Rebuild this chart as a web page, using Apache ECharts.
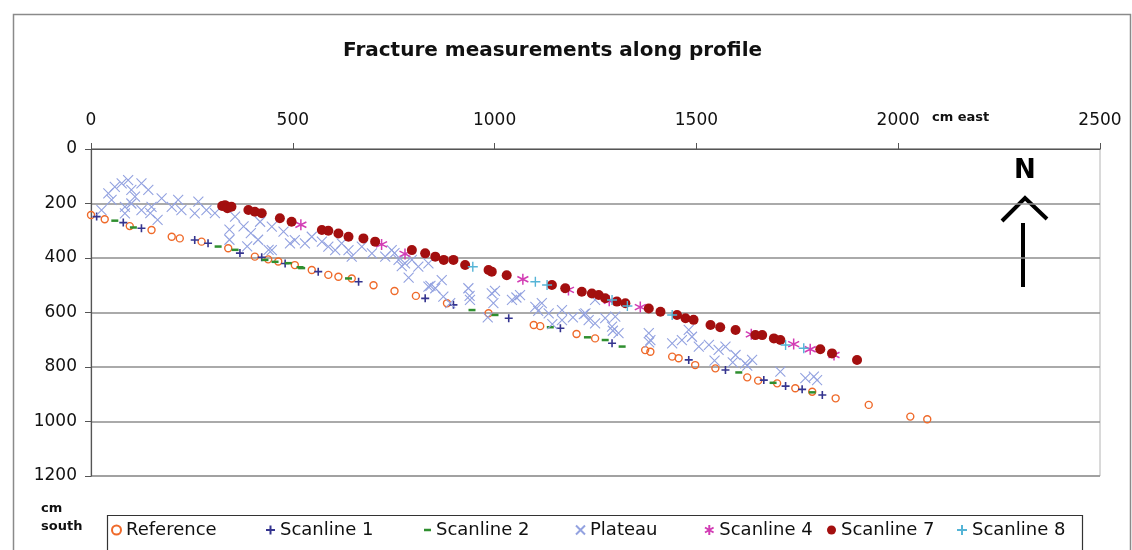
<!DOCTYPE html>
<html>
<head>
<meta charset="utf-8">
<style>
  html, body { margin: 0; padding: 0; background: #fff; }
  #chart { width: 1132px; height: 550px; }
</style>
<script src="https://cdn.jsdelivr.net/npm/echarts@6/dist/echarts.min.js"></script>
</head>
<body>
<div id="chart"></div>
<script>
// Axis ticks (cm east along the top, cm south down the side)
const eastTicks = [0, 500, 1000, 1500, 2000, 2500];
const southTicks = [0, 200, 400, 600, 800, 1000, 1200];

// Fracture positions [cm east, cm south] per survey line
const reference = [
  [0,242],[34,258],[96,283],[150,297],[200,322],[220,328],[274,340],[340,364],[406,395],[439,405],
  [464,413],[505,426],[547,444],[588,462],[613,469],[646,475],[700,500],[752,521],[805,539],[882,566],
  [985,603],[1097,646],[1113,650],[1203,679],[1249,695],[1373,738],[1386,744],[1440,762],[1456,768],
  [1497,793],[1547,805],[1626,838],[1653,850],[1700,860],[1745,878],[1787,891],[1845,915],[1927,939],
  [2030,982],[2072,992]
];
const scanline1 = [
  [14,248],[80,270],[125,291],[257,334],[290,346],[369,382],[423,397],[481,420],[563,450],[663,487],
  [828,548],[898,572],[1035,621],[1163,658],[1291,713],[1481,774],[1572,811],[1667,848],[1721,870],
  [1762,882],[1812,903]
];
const scanline2 = [
  [59,263],[105,288],[315,358],[357,370],[431,407],[456,414],[489,419],[518,434],[522,437],[638,475],
  [944,591],[1001,609],[1138,654],[1230,691],[1274,701],[1316,725],[1605,820],[1690,858],[1787,893]
];
const plateau = [
  [43,163],[59,139],[76,126],[92,114],[100,150],[109,175],[125,126],[142,150],[51,187],[84,212],
  [100,200],[26,224],[125,224],[150,212],[175,181],[200,212],[216,187],[224,224],[266,193],[286,224],
  [257,236],[357,248],[84,236],[147,235],[165,260],[307,235],[343,296],[378,284],[396,309],[343,333],
  [387,357],[414,333],[440,370],[419,267],[448,285],[477,303],[505,334],[493,346],[530,346],[547,322],
  [572,340],[588,358],[605,371],[621,346],[638,371],[646,395],[671,358],[696,383],[729,395],[745,371],
  [762,407],[778,420],[795,407],[811,432],[836,420],[448,371],[836,505],[853,511],[869,481],[873,542],
  [890,566],[935,511],[939,554],[993,530],[997,566],[1043,554],[1063,536],[1101,579],[1117,566],
  [1134,603],[1167,591],[1167,628],[1225,603],[1233,628],[1249,554],[752,382],[770,430],[787,472],
  [841,502],[938,539],[983,618],[1054,545],[1108,594],[1143,643],[1001,521],[1249,640],[1274,621],
  [1291,652],[1299,615],[1307,676],[1382,676],[1386,701],[1440,713],[1464,701],[1481,664],[1489,689],
  [1506,725],[1531,719],[1555,737],[1572,725],[1597,756],[1621,787],[1638,774],[1708,817],[1770,841],
  [1791,835],[1799,848],[1194,618],[1221,606],[1293,667],[1383,710],[1545,777],[1590,783],[1626,795]
];
const scanline4 = [
  [520,278],[720,350],[778,385],[1070,478],[1183,517],[1284,557],[1361,580],[1636,680],[1741,716],
  [1782,735],[1841,756]
];
const scanline7 = [
  [325,209],[332,206],[338,217],[348,212],[390,224],[406,230],[423,236],[468,254],[497,267],[572,297],
  [588,300],[613,310],[638,322],[675,328],[704,340],[795,371],[828,383],[853,395],[874,407],[898,407],
  [927,426],[985,444],[993,450],[1030,463],[1142,499],[1175,511],[1216,524],[1241,530],[1258,536],
  [1274,548],[1303,560],[1324,566],[1382,585],[1411,597],[1452,609],[1473,621],[1493,627],[1535,646],
  [1559,654],[1597,664],[1646,683],[1663,683],[1692,695],[1708,701],[1807,735],[1836,750],[1898,774]
];
const scanline8 = [
  [946,432],[1101,487],[1130,499],[1291,554],[1329,576],[1440,609],[1721,719],[1766,731]
];

const FONT = 'DejaVu Sans';

// Stroke-only marker outlines
const PLUS = 'path://M5,0L5,10M0,5L10,5';
const CROSS = 'path://M0,0L10,10M10,0L0,10';
const STAR = 'path://M5,0L5,10M0.7,2.5L9.3,7.5M9.3,2.5L0.7,7.5';

const seriesDefs = [
  { name: 'Reference', data: reference, symbol: 'circle', size: 7, key: [9, 9],
    style: { color: 'rgba(255,255,255,0)', borderColor: '#ef6a2a', borderWidth: 1.4 } },
  { name: 'Scanline 1', data: scanline1, symbol: PLUS, size: 8, key: [9, 9],
    style: { color: 'rgba(0,0,0,0)', borderColor: '#34348f', borderWidth: 1.6 } },
  { name: 'Scanline 2', data: scanline2, symbol: 'rect', size: [7, 2.5], key: [7, 2.5],
    style: { color: '#2f8f2f' } },
  { name: 'Plateau', data: plateau, symbol: CROSS, size: 10, key: [9, 9],
    style: { color: 'rgba(0,0,0,0)', borderColor: '#93a2e0', borderWidth: 1.1 } },
  { name: 'Scanline 4', data: scanline4, symbol: STAR, size: 11, key: [10, 10],
    style: { color: 'rgba(0,0,0,0)', borderColor: '#d23cb4', borderWidth: 1.5 } },
  { name: 'Scanline 7', data: scanline7, symbol: 'circle', size: 10, key: [9, 9],
    style: { color: '#a30f0f' } },
  { name: 'Scanline 8', data: scanline8, symbol: PLUS, size: 10, key: [10, 10],
    style: { color: 'rgba(0,0,0,0)', borderColor: '#55b4d6', borderWidth: 1.4 } }
];

// One legend per entry so each sits at its own column in the key box
const legendLefts = [111, 265, 424, 575, 704, 827, 956];
const legends = seriesDefs.map((s, i) => ({
  data: [s.name],
  left: legendLefts[i],
  top: 521,
  padding: 0,
  itemWidth: s.key[0],
  itemHeight: s.key[1],
  selectedMode: false,
  textStyle: { fontFamily: FONT, fontSize: 18, color: '#111' }
}));

const plainNumber = v => String(v);

const chart = echarts.init(document.getElementById('chart'), null, { renderer: 'canvas' });

chart.setOption({
  animation: false,
  backgroundColor: '#fff',
  title: {
    text: 'Fracture measurements along profile',
    left: 343,
    top: 41,
    padding: 0,
    textStyle: { fontFamily: FONT, fontSize: 20, fontWeight: 'bold', color: '#111' }
  },
  legend: legends,
  grid: {
    left: 91, right: 32, top: 149, bottom: 74,
    show: true, borderColor: '#b4b4b4', borderWidth: 1, backgroundColor: '#fff'
  },
  xAxis: {
    type: 'value',
    position: 'top',
    min: eastTicks[0],
    max: eastTicks[eastTicks.length - 1],
    interval: eastTicks[1] - eastTicks[0],
    axisLine: { show: true, lineStyle: { color: '#555', width: 1.2 } },
    axisTick: { show: true, inside: false, length: 6, lineStyle: { color: '#555' } },
    axisLabel: { fontFamily: FONT, fontSize: 17, color: '#111', margin: 20, formatter: plainNumber },
    splitLine: { show: false }
  },
  yAxis: {
    type: 'value',
    inverse: true,
    min: southTicks[0],
    max: southTicks[southTicks.length - 1],
    interval: southTicks[1] - southTicks[0],
    axisLine: { show: true, lineStyle: { color: '#555', width: 1.2 } },
    axisTick: { show: true, inside: false, length: 6, lineStyle: { color: '#555' } },
    axisLabel: { fontFamily: FONT, fontSize: 17, color: '#111', margin: 14, formatter: plainNumber },
    splitLine: { show: true, lineStyle: { color: '#8e8e8e', width: 1.5 } }
  },
  series: seriesDefs.map(s => ({
    name: s.name,
    type: 'scatter',
    data: s.data,
    symbol: s.symbol,
    symbolSize: s.size,
    itemStyle: Object.assign({ opacity: 1 }, s.style),
    emphasis: { disabled: true }
  })),
  graphic: [
    // outer chart frame
    { type: 'rect', left: 11, top: 12, silent: true,
      shape: { width: 1117, height: 560 },
      style: { fill: 'none', stroke: '#8a8a8a', lineWidth: 1.5 } },
    // key box
    { type: 'rect', left: 105, top: 513, silent: true,
      shape: { width: 975, height: 50 },
      style: { fill: 'none', stroke: '#333', lineWidth: 1.2 } },
    // axis unit captions
    { type: 'text', left: 932, top: 111, silent: true,
      style: { text: 'cm east', fontFamily: FONT, fontSize: 13, fontWeight: 'bold', fill: '#111' } },
    { type: 'text', left: 41, top: 500, silent: true,
      style: { text: 'cm\nsouth', fontFamily: FONT, fontSize: 13, fontWeight: 'bold', fill: '#111', lineHeight: 18 } },
    // north arrow
    { type: 'text', left: 1014, top: 158, silent: true,
      style: { text: 'N', fontFamily: FONT, fontSize: 26, fontWeight: 'bold', fill: '#000' } },
    { type: 'polyline', silent: true,
      shape: { points: [[1002, 221], [1025, 198], [1047, 219]] },
      style: { stroke: '#000', lineWidth: 4, fill: 'none' } },
    { type: 'line', silent: true,
      shape: { x1: 1023, y1: 223, x2: 1023, y2: 287 },
      style: { stroke: '#000', lineWidth: 4 } }
  ]
});
</script>
</body>
</html>
